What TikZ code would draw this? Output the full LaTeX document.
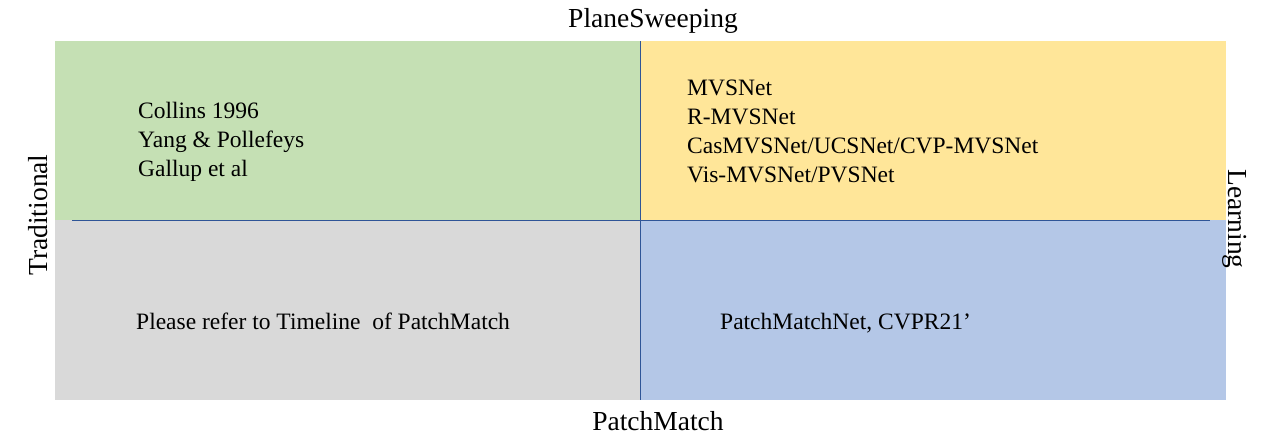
\documentclass[tikz,border=0pt]{standalone}
\usepackage{fontspec}
\setmainfont{Liberation Serif}
\definecolor{qgreen}{HTML}{C5E0B4}
\definecolor{qyellow}{HTML}{FFE699}
\definecolor{qgray}{HTML}{D9D9D9}
\definecolor{qblue}{HTML}{B4C7E7}
\definecolor{axisblue}{HTML}{2F5597}
\begin{document}
\begin{tikzpicture}[x=1pt,y=-1pt,
  txt/.style={anchor=base west,inner sep=0pt,font=\fontsize{23.5}{29}\selectfont,align=left},
  lbl/.style={inner sep=0pt,font=\fontsize{27.5}{33}\selectfont},
  axisline/.style={draw=axisblue,line width=0.9pt}]
\useasboundingbox (0,0) rectangle (1280,445);
\fill[white] (0,0) rectangle (1280,445);
\fill[qgreen] (55,41) rectangle (640,220);
\fill[qyellow] (640,41) rectangle (1226,220);
\fill[qgray] (55,220) rectangle (640,400);
\fill[qblue] (640,220) rectangle (1226,400);
\coordinate (hl) at (72,220);
\coordinate (hr) at (1210,220);
\coordinate (vt) at (640,41);
\coordinate (vb) at (640,400);
\draw[axisline] (hl) -- (hr);
\draw[axisline] (vt) -- (vb);
\node[txt] (tl) at (138,176) {Collins 1996\\Yang \& Pollefeys\\Gallup et al};
\node[txt] (tr) at (687,182) {MVSNet\\R-MVSNet\\CasMVSNet/UCSNet/CVP-MVSNet\\Vis-MVSNet/PVSNet};
\node[txt] (bl) at (136,329) {Please refer to Timeline\ \ of PatchMatch};
\node[txt] (br) at (720,329) {PatchMatchNet, CVPR21’};
\node[lbl,anchor=base] (top) at (653,27) {PlaneSweeping};
\node[lbl,anchor=base] (bot) at (658,430) {PatchMatch};
\node[lbl,anchor=base,rotate=90] (left) at (47,215) {Traditional};
\node[lbl,anchor=base,rotate=-90] (right) at (1228,219) {Learning};
\end{tikzpicture}
\end{document}
